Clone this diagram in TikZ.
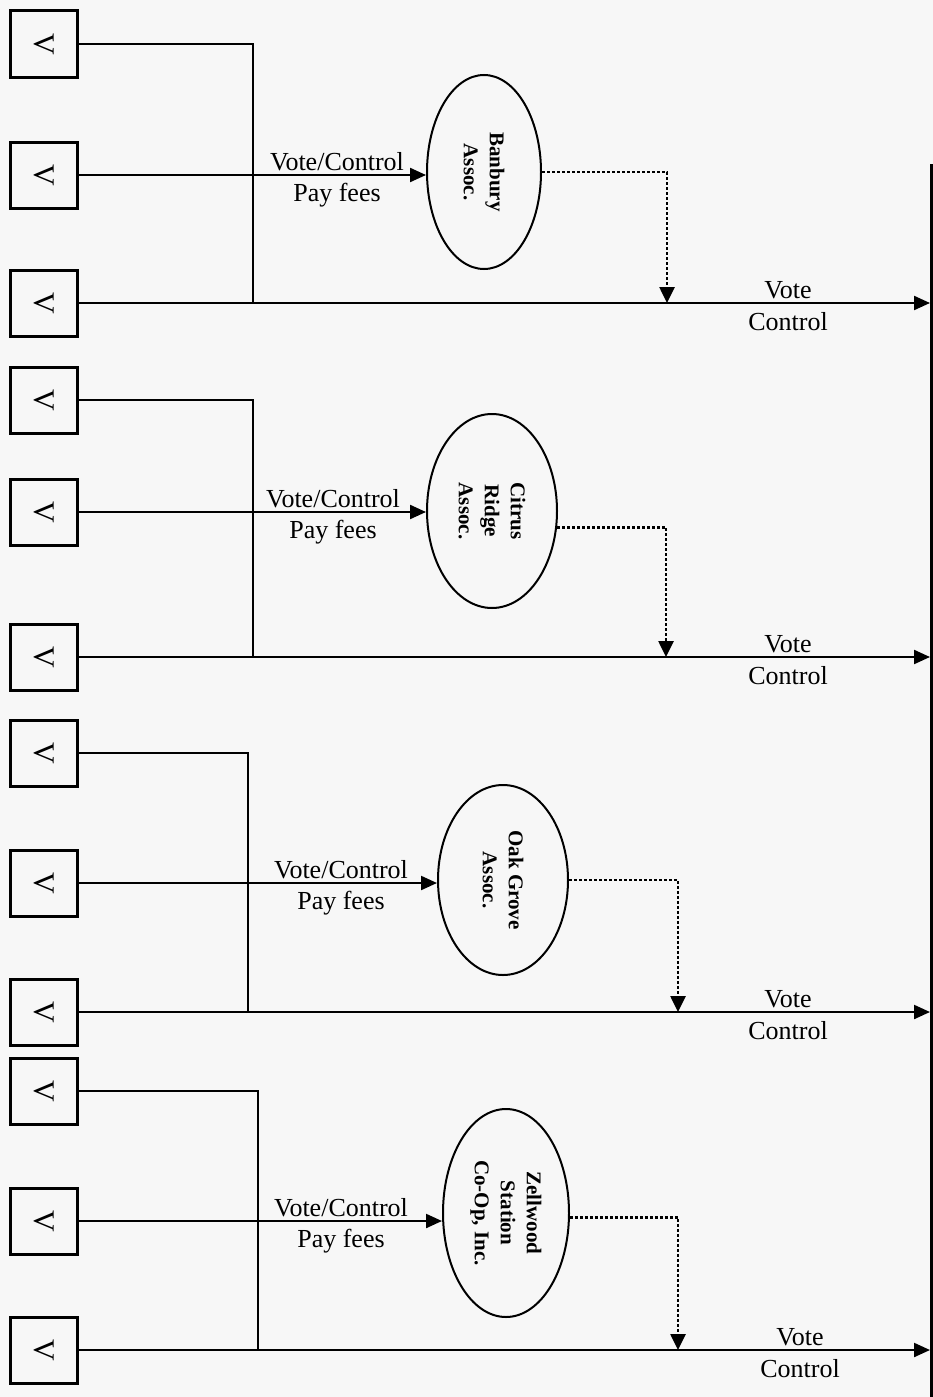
\documentclass[tikz,border=0pt]{standalone}
\usepackage{fontspec}
\setmainfont{Liberation Serif}
\usetikzlibrary{arrows.meta,shapes.geometric,calc}
\definecolor{bgc}{RGB}{247,247,247}
\tikzset{
  vbox/.style={draw, line width=3pt, minimum width=67pt, minimum height=66pt, inner sep=0pt},
  vlab/.style={rotate=-90, font=\fontsize{30}{34}\selectfont},
  assoc/.style={draw, ellipse, line width=2pt, inner sep=0pt},
  assoctext/.style={rotate=-90, align=center, font=\fontsize{21}{26}\selectfont\bfseries},
  conn/.style={line width=2.2pt},
  arr/.style={conn, -{Triangle[length=16pt,width=14pt]}},
  dotarr/.style={line width=2.6pt, dash pattern=on 2.6pt off 2.4pt, -{Triangle[length=16pt,width=15pt]}},
  lab/.style={anchor=base, font=\fontsize{26}{30}\selectfont, inner sep=0pt}
}
\begin{document}
\begin{tikzpicture}[x=1pt,y=-1pt]
\fill[bgc] (0,0) rectangle (933,1397);
\useasboundingbox (0,0) rectangle (933,1397);
% right frame
\node (R) [draw, line width=3.4pt, anchor=north west, minimum width=40pt, minimum height=1300pt, inner sep=0pt] at (930,164) {};
\foreach \g/\ya/\yb/\yc/\bx/\ex/\ey/\rx/\ry/\dx/\da/\vx/\lx/\txt in {
  1/44/175/303/253/484/172/57/97/667/0/788/337/{Banbury\\Assoc.},
  2/400/512/657/253/492/511/65/97/666/-14/788/333/{Citrus\\Ridge\\Assoc.},
  3/753/883/1012/248/503/880/65/95/678/0/788/341/{Oak Grove\\Assoc.},
  4/1091/1221/1350/258/506/1213/63/104/678/-4/800/341/{Zellwood\\Station\\Co-Op, Inc.}}{
  \node (a\g) [vbox] at (44,\ya) {};
  \node [vlab] at (a\g) {V};
  \node (b\g) [vbox] at (44,\yb) {};
  \node [vlab] at (b\g) {V};
  \node (c\g) [vbox] at (44,\yc) {};
  \node [vlab] at (c\g) {V};
  \node (e\g) [assoc, minimum width=2*\rx pt, minimum height=2*\ry pt] at (\ex,\ey) {};
  \node (t\g) [assoctext] at (e\g) {\txt};
  \coordinate (j\g) at (\bx,\yc);
  \coordinate (d\g) at (\dx,\yc);
  % bus
  \draw[conn] (a\g.east) -| (j\g);
  % bottom line to right frame
  \draw[arr] (c\g.east) -- (c\g.east -| R.west);
  % middle arrow
  \draw[arr] (b\g.east) -- (b\g.east -| e\g.west);
  % dotted arrow
  \draw[dotarr] (e\g.\da) -| (d\g);
  % labels
  \node[lab] at (\lx,\yb-5) {Vote/Control};
  \node[lab] at (\lx,\yb+26) {Pay fees};
  \node[lab] at (\vx,\yc-5) {Vote};
  \node[lab] at (\vx,\yc+27) {Control};
}
\end{tikzpicture}
\end{document}
